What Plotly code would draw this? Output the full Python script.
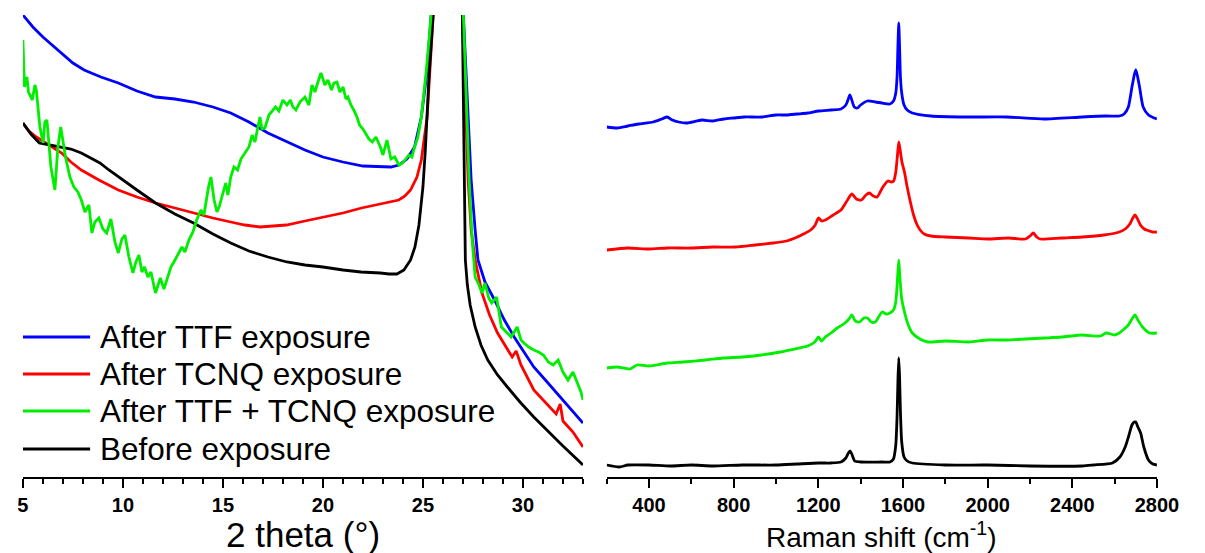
import plotly.graph_objects as go

# ---------------- XRD (left panel) ----------------
series_names = ["After TTF exposure", "After TCNQ exposure",
                "After TTF + TCNQ exposure", "Before exposure"]
series_colors = ["#0000ff", "#ff0000", "#00ee00", "#000000"]

theta_blue = [5.0, 5.5, 6.0, 6.5, 6.94, 7.5, 8.06, 8.9, 9.77, 10.7, 11.63, 12.6, 13.53, 14.5,
              15.39, 16.3, 17.25, 18.2, 19.1, 20.0, 21.0, 22.0, 22.87, 23.4, 23.8, 24.2, 24.58,
              24.92, 25.2, 25.41, 26.45, 27.02, 27.22, 27.41, 27.61, 27.75, 28.1, 28.58, 29.07,
              29.56, 30.05, 30.54, 31.12, 31.76, 32.4, 33.0]
xrd_blue = [462, 450, 440, 431, 424, 414, 407, 400, 394, 386, 380, 378, 375, 370,
            364, 355, 344, 335, 327, 320, 315, 311, 310, 310, 312, 318, 330,
            360, 405, 462, 3000, 462, 377, 297, 247, 217, 195, 177, 157,
            140, 125, 110, 97, 82, 67, 54]

theta_red = [5.0, 5.3, 5.67, 6.3, 6.94, 7.4, 7.92, 8.8, 9.77, 10.7, 11.63, 12.6, 13.53, 14.5,
             15.39, 16.1, 16.85, 17.5, 18.17, 19.1, 20.08, 21.0, 21.93, 22.9, 23.79, 24.1,
             24.38, 24.7, 24.92, 25.21, 25.51, 26.45, 26.97, 27.12, 27.26, 27.41, 27.61, 27.95,
             28.33, 28.73, 29.22, 29.46, 29.66, 29.9, 30.54, 31.12, 31.66, 31.86, 32.0, 32.5,
             33.0]
xrd_red = [354, 346, 340, 332, 324, 315, 307, 297, 287, 280, 274, 269, 264, 259,
           255, 252, 250, 251, 252, 256, 260, 264, 269, 273, 277, 281,
           287, 300, 317, 360, 462, 3000, 462, 377, 297, 247, 217, 184,
           162, 144, 127, 120, 126, 112, 87, 75, 63, 73, 56, 45,
           30]

theta_green = [5.0, 5.08, 5.2, 5.28, 5.47, 5.6, 5.67, 5.85, 6.01, 6.1, 6.2, 6.4, 6.6, 6.75, 6.89,
               7.0, 7.13, 7.35, 7.55, 7.75, 7.92, 8.1, 8.3, 8.45, 8.6, 8.8, 9.0, 9.19, 9.4, 9.6,
               9.77, 9.95, 10.1, 10.3, 10.5, 10.65, 10.8, 10.95, 11.08, 11.25, 11.4, 11.63,
               11.75, 11.87, 12.05, 12.2, 12.4, 12.55, 12.75, 12.95, 13.1, 13.3, 13.5, 13.69,
               13.9, 14.05, 14.28, 14.4, 14.56, 14.7, 14.81, 15.0, 15.14, 15.25, 15.39, 15.55,
               15.73, 15.9, 16.12, 16.3, 16.46, 16.6, 16.85, 16.95, 17.1, 17.3, 17.63, 17.8,
               18.0, 18.2, 18.37, 18.5, 18.65, 18.85, 19.1, 19.3, 19.45, 19.6, 19.75, 19.9,
               20.1, 20.25, 20.43, 20.55, 20.7, 20.85, 21.01, 21.15, 21.25, 21.4, 21.54, 21.7,
               21.83, 22.0, 22.12, 22.3, 22.47, 22.65, 22.87, 23.0, 23.2, 23.4, 23.59, 23.8,
               23.99, 24.15, 24.29, 24.45, 24.58, 24.75, 24.92, 25.17, 25.41, 26.45, 27.02,
               27.17, 27.31, 27.46, 27.61, 27.8, 27.95, 28.1, 28.29, 28.44, 28.68, 28.92, 29.17,
               29.41, 29.71, 29.9, 30.05, 30.29, 30.54, 30.78, 31.02, 31.27, 31.51, 31.76, 32.0,
               32.25, 32.5, 32.75, 32.9, 33.0]
xrd_green = [437, 390, 400, 385, 377, 392, 387, 350, 334, 355, 357, 310, 287, 330, 350,
             335, 320, 300, 290, 285, 277, 265, 272, 244, 255, 259, 248, 244, 258, 235,
             224, 238, 242, 220, 204, 215, 222, 205, 210, 200, 205, 184,
             192, 199, 188, 197, 210, 215, 222, 230, 225, 237, 245, 257,
             267, 262, 290, 300, 277, 265, 270, 285, 294, 282, 300, 310,
             307, 318, 324, 330, 342, 335, 360, 348, 349, 362, 370, 366,
             377, 372, 377, 370, 367, 375, 380, 372, 392, 385, 395, 404,
             392, 397, 387, 394, 395, 385, 390, 378, 380, 372, 367, 360,
             352, 348, 344, 338, 335, 340, 330, 322, 337, 318, 320, 312,
             314, 318, 322, 320, 330, 340, 360, 407, 462, 3000, 462,
             377, 297, 237, 200, 192, 184, 194, 179, 174, 180, 150, 145,
             140, 150, 137, 134, 130, 127, 125, 122, 115, 112, 117, 105,
             97, 105, 92, 85, 77]

theta_black = [5.0, 5.4, 5.82, 6.4, 6.94, 7.4, 7.92, 8.4, 8.85, 9.3, 9.77, 10.7, 11.63, 12.6,
               13.53, 14.5, 15.39, 16.3, 17.25, 18.2, 19.1, 20.0, 21.01, 21.9, 22.87, 23.3,
               23.7, 24.05, 24.38, 24.6, 24.8, 25.0, 25.12, 25.3, 25.51, 26.45, 26.97, 27.02,
               27.07, 27.12, 27.22, 27.36, 27.61, 27.9, 28.24, 28.73, 29.22, 29.85, 30.54,
               31.27, 32.0, 33.0]
xrd_black = [354, 343, 334, 332, 330, 328, 324, 319, 314, 307, 300, 287, 274, 263,
             254, 243, 234, 226, 220, 215, 212, 210, 207, 205, 204, 203,
             203, 207, 217, 230, 252, 290, 327, 400, 462, 3000, 462, 377,
             297, 217, 192, 172, 150, 132, 117, 102, 90, 75, 60,
             45, 31, 12]

xrd_x = [theta_blue, theta_red, theta_green, theta_black]
xrd_y = [xrd_blue, xrd_red, xrd_green, xrd_black]

# ---------------- Raman (right panel, stacked spectra) ----------------
wn_blue = [200, 250, 300, 350, 420, 460, 486, 510, 540, 578, 650, 700, 754, 800, 850, 933, 1000,
           1050, 1100, 1150, 1201, 1260, 1307, 1330, 1340, 1349, 1358, 1370, 1385, 1400, 1432,
           1470, 1500, 1538, 1555, 1566, 1572, 1576, 1580, 1584, 1588, 1594, 1605, 1620, 1644,
           1732, 1900, 2091, 2267, 2447, 2560, 2622, 2645, 2665, 2682, 2693, 2700, 2707, 2718,
           2735, 2760, 2800]
raman_blue = [350, 349, 351, 353, 355, 358, 360, 357, 355, 354, 357, 356, 358, 359, 360, 360, 362,
              362, 363, 364, 366, 367, 368, 372, 377, 382, 377, 370, 369, 372, 376,
              375, 374, 373, 376, 384, 400, 430, 454, 430, 400, 384, 372, 367, 364,
              361, 360, 360, 358, 360, 361, 361, 363, 370, 390, 402, 407, 402, 390,
              370, 362, 358]

wn_red = [200, 300, 400, 486, 600, 700, 809, 900, 984, 1050, 1090, 1130, 1164, 1185, 1201, 1215,
          1233, 1270, 1307, 1335, 1358, 1380, 1404, 1425, 1441, 1460, 1478, 1505, 1529, 1545,
          1556, 1566, 1574, 1580, 1586, 1595, 1607, 1620, 1635, 1650, 1665, 1681, 1700, 1732,
          1800, 1911, 2000, 2100, 2179, 2200, 2216, 2232, 2248, 2350, 2447, 2550, 2622, 2650,
          2672, 2686, 2696, 2706, 2722, 2740, 2751, 2780, 2800]
raman_red = [227, 229, 228, 229, 229, 230, 230, 232, 234, 236, 239, 243, 247, 252, 259, 256,
             257, 262, 267, 276, 283, 278, 277, 282, 284, 281, 280, 290, 296, 295,
             296, 305, 322, 335, 328, 315, 305, 290, 275, 262, 253, 247, 243, 241,
             240, 239, 238, 239, 238, 241, 244, 240, 238, 239, 240, 242, 245, 248,
             253, 259, 262, 259, 252, 248, 247, 245, 245]

wn_green = [200, 250, 311, 343, 400, 486, 560, 666, 750, 841, 930, 1021, 1109, 1150, 1183, 1201,
            1215, 1233, 1260, 1289, 1320, 1345, 1358, 1375, 1395, 1415, 1432, 1450, 1469, 1485,
            1501, 1520, 1538, 1555, 1566, 1574, 1580, 1586, 1594, 1607, 1625, 1644, 1680, 1718,
            1800, 1911, 2000, 2091, 2180, 2267, 2350, 2447, 2534, 2560, 2600, 2622, 2645, 2665,
            2682, 2696, 2710, 2732, 2765, 2800]
raman_green = [109, 110, 108, 112, 111, 114, 115, 117, 119, 120, 122, 125, 129, 131, 135, 140,
               136, 140, 144, 149, 153, 158, 162, 156, 155, 159, 159, 155, 155, 160,
               165, 163, 164, 167, 175, 198, 217, 198, 178, 165, 152, 144, 138, 135,
               136, 135, 137, 137, 138, 139, 140, 142, 141, 144, 142, 144, 148, 152,
               158, 162, 157, 150, 144, 144]

wn_black = [200, 260, 300, 400, 500, 600, 700, 841, 1000, 1100, 1201, 1260, 1307, 1330, 1342,
            1350, 1358, 1372, 1400, 1500, 1538, 1555, 1566, 1572, 1576, 1580, 1584, 1588, 1594,
            1605, 1620, 1644, 1800, 2000, 2200, 2447, 2500, 2590, 2625, 2650, 2668, 2682, 2693,
            2700, 2710, 2723, 2738, 2760, 2780, 2800]
raman_black = [12, 10, 12, 12, 11, 12, 11, 12, 12, 13, 14, 14, 15, 19, 24,
               26, 23, 16, 15, 15, 15, 18, 32, 60, 95, 119, 100, 65, 35,
               20, 16, 14, 12, 12, 11, 11, 12, 14, 20, 30, 42, 52, 55,
               55, 50, 44, 30, 17, 13, 12]

raman_x = [wn_blue, wn_red, wn_green, wn_black]
raman_y = [raman_blue, raman_red, raman_green, raman_black]

xrd_ticks = [5, 10, 15, 20, 25, 30]
raman_ticks = [400, 800, 1200, 1600, 2000, 2400, 2800]

FONT = "Arial, 'Liberation Sans', sans-serif"
LW = 2.8

fig = go.Figure()
draw_order = [0, 1, 3, 2]
for i in draw_order:
    fig.add_trace(go.Scatter(x=xrd_x[i], y=xrd_y[i], mode="lines", name=series_names[i],
                             line=dict(color=series_colors[i], width=LW),
                             xaxis="x", yaxis="y", showlegend=False))
for i in range(4):
    fig.add_trace(go.Scatter(x=raman_x[i], y=raman_y[i], mode="lines", name=series_names[i],
                             line=dict(color=series_colors[i], width=LW,
                                       shape="spline", smoothing=0.6),
                             xaxis="x2", yaxis="y2", showlegend=False))

W, H = 1205, 553
ydom = [1 - 477 / H, 1 - 15 / H]


def axis_style(minor_step):
    return dict(showline=True, linecolor="black", linewidth=2, ticks="outside",
                ticklen=9, tickwidth=2, tickcolor="black", showgrid=False, zeroline=False,
                tickfont=dict(family=FONT, size=20, color="black", weight="bold"),
                minor=dict(ticks="outside", ticklen=5, tickwidth=2, tickcolor="black",
                           showgrid=False, dtick=minor_step))


fig.update_layout(
    width=W, height=H, margin=dict(l=0, r=0, t=0, b=0),
    paper_bgcolor="white", plot_bgcolor="white",
    xaxis=dict(domain=[17.3 / W, 590.7 / W], range=[5, 33], tickvals=xrd_ticks,
               anchor="y", **axis_style(1)),
    yaxis=dict(domain=ydom, range=[0, 462], visible=False, anchor="x"),
    xaxis2=dict(domain=[615 / W, 1178.3 / W], range=[200, 2800], tickvals=raman_ticks,
                anchor="y2", **axis_style(200)),
    yaxis2=dict(domain=ydom, range=[0, 462], visible=False, anchor="x2"),
    showlegend=False,
)

# Axis titles
fig.add_annotation(text="2 theta (°)", xref="paper", yref="paper",
                   x=(17.3 + 590.7) / 2 / W, y=1 - 534 / H, showarrow=False,
                   font=dict(family=FONT, size=35, color="black"),
                   xanchor="center", yanchor="middle")
fig.add_annotation(text="Raman shift (cm<sup>-1</sup>)", xref="paper", yref="paper",
                   x=(615 + 1178.3) / 2 / W, y=1 - 535 / H, showarrow=False,
                   font=dict(family=FONT, size=28, color="black"),
                   xanchor="center", yanchor="middle")

# Legend (drawn inside left panel)
legend_rows = [337, 374, 411, 449]
for i in range(4):
    yp = 1 - legend_rows[i] / H
    fig.add_shape(type="line", xref="x", yref="paper", x0=5.0, x1=8.36, y0=yp, y1=yp,
                  line=dict(color=series_colors[i], width=LW))
    fig.add_annotation(text=series_names[i], xref="x", yref="paper", x=8.75, y=yp,
                       showarrow=False, xanchor="left", yanchor="middle",
                       font=dict(family=FONT, size=31.5, color="black"))

fig.write_html("out.html", config={"displayModeBar": False},
               post_script="document.body.style.margin='0';document.body.style.padding='0';")
